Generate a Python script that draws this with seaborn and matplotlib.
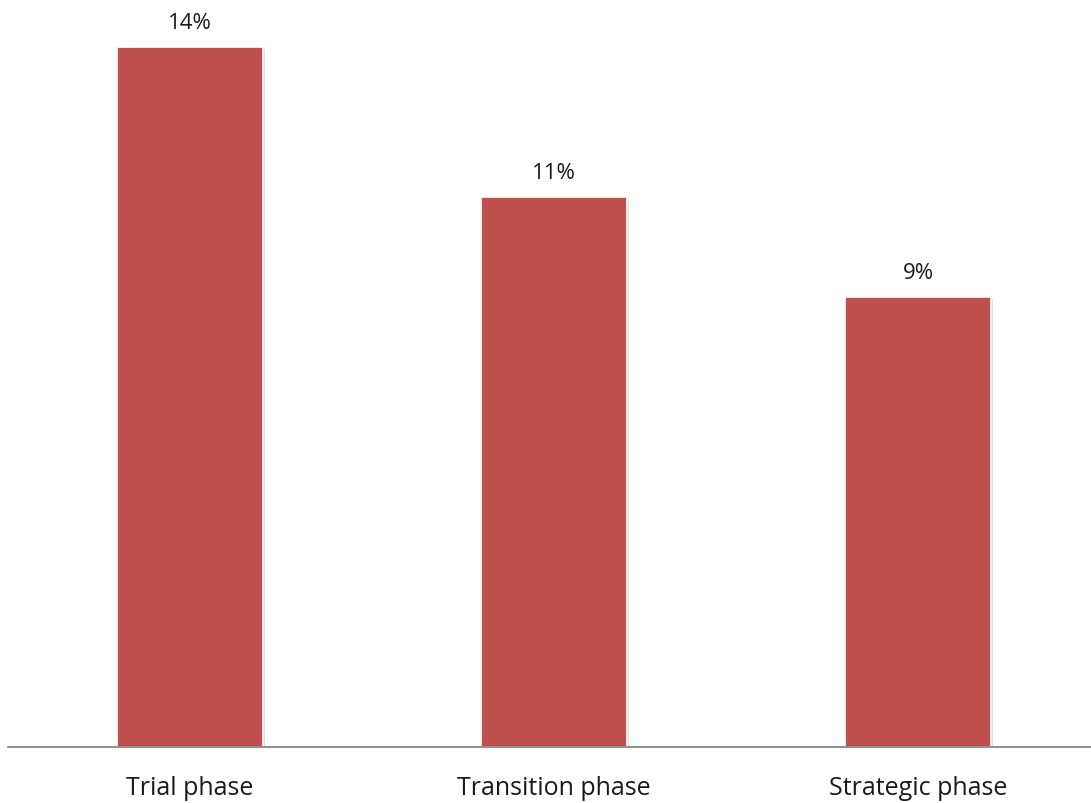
import matplotlib
matplotlib.use("Agg")
import matplotlib.pyplot as plt
import matplotlib.patheffects as pe
import seaborn as sns
import pandas as pd

phases = ["Trial phase", "Transition phase", "Strategic phase"]
shares = [14, 11, 9]
labels = ["14%", "11%", "9%"]

sns.set_theme(style="white")
plt.rcParams["font.family"] = ["Open Sans", "DejaVu Sans"]

df = pd.DataFrame({"phase": phases, "share": shares})

fig = plt.figure(figsize=(10.91, 8.04), dpi=100)
ax = fig.add_axes([8 / 1091, 56 / 804, 1 - 8 / 1091, 700 / 804])

sns.barplot(data=df, x="phase", y="share", color="#C0504D", saturation=1,
            width=0.4, edgecolor="white", linewidth=1.2, ax=ax)

for patch in ax.patches:
    patch.set_path_effects([pe.SimplePatchShadow(offset=(1.5, -1.5), alpha=0.25,
                                                 shadow_rgbFace="#808080"),
                            pe.Normal()])

for i, (v, t) in enumerate(zip(shares, labels)):
    ax.annotate(t, (i, v), xytext=(0, 10), textcoords="offset points",
                ha="center", va="bottom", fontsize=16, color="#1a1a1a")

ax.set_ylim(0, 14)
ax.set_xlim(-0.5, 2.5 - 9 / 364)
ax.set_xlabel("")
ax.set_ylabel("")
ax.set_yticks([])
ax.tick_params(axis="x", length=0, pad=20, labelsize=18, labelcolor="#1a1a1a")
for s in ["top", "right", "left"]:
    ax.spines[s].set_visible(False)
ax.spines["bottom"].set_color("#868686")
ax.spines["bottom"].set_linewidth(1.3)
ax.patch.set_alpha(0)

fig.savefig("out.png", dpi=100, facecolor="white")
